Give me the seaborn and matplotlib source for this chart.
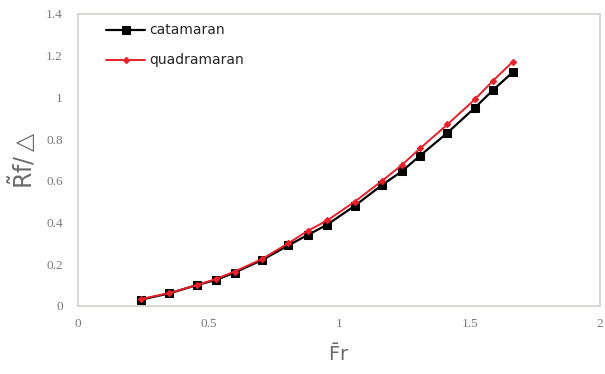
import matplotlib
matplotlib.use("Agg")
import matplotlib.pyplot as plt
import seaborn as sns
import pandas as pd

# Froude number and frictional resistance per displacement
froude = [0.24, 0.35, 0.455, 0.53, 0.60, 0.705, 0.805, 0.88, 0.955, 1.06,
          1.165, 1.24, 1.31, 1.415, 1.52, 1.59, 1.665]
catamaran = [0.03, 0.06, 0.10, 0.125, 0.16, 0.22, 0.29, 0.34, 0.39, 0.48,
             0.58, 0.645, 0.72, 0.83, 0.95, 1.035, 1.12]
quadramaran = [0.033, 0.062, 0.10, 0.13, 0.165, 0.225, 0.30, 0.36, 0.41, 0.50,
               0.60, 0.675, 0.755, 0.87, 0.99, 1.08, 1.17]

x_ticks = [0, 0.5, 1, 1.5, 2]
x_tick_labels = ["0", "0.5", "1", "1.5", "2"]
y_ticks = [0, 0.2, 0.4, 0.6, 0.8, 1.0, 1.2, 1.4]
y_tick_labels = ["0", "0.2", "0.4", "0.6", "0.8", "1", "1.2", "1.4"]

sns.set_theme(style="white")
plt.rcParams["font.family"] = ["DejaVu Sans"]
plt.rcParams["mathtext.fontset"] = "dejavusans"

fig = plt.figure(figsize=(6.05, 3.74), dpi=100)
ax = fig.add_axes([0.129, 0.182, 0.863, 0.781])

df_cat = pd.DataFrame({"Fr": froude, "val": catamaran})
df_quad = pd.DataFrame({"Fr": froude, "val": quadramaran})

sns.lineplot(data=df_cat, x="Fr", y="val", ax=ax, color="black", lw=1.6,
             marker="s", markersize=5.2, markeredgecolor="black",
             label="catamaran")
sns.lineplot(data=df_quad, x="Fr", y="val", ax=ax, color="#e8202a", lw=1.4,
             marker="D", markersize=3.2, markeredgecolor="#e8202a",
             label="quadramaran")

ax.set_xlim(0, 2)
ax.set_ylim(0, 1.4)
ax.set_xticks(x_ticks)
ax.set_xticklabels(x_tick_labels, family="Liberation Serif")
ax.set_yticks(y_ticks)
ax.set_yticklabels(y_tick_labels, family="Liberation Serif")
ax.tick_params(axis="both", labelsize=9.5, colors="#7a7a7a", length=0)
ax.tick_params(axis="x", pad=9)
ax.tick_params(axis="y", pad=11)
for s in ax.spines.values():
    s.set_color("#d6d0cc")
    s.set_linewidth(1.2)

ax.set_xlabel(r"$\bar{\mathrm{F}}\mathrm{r}$", fontsize=14, color="#6a6a6a",
              labelpad=9)
ax.set_ylabel(r"$\tilde{\mathrm{R}}\mathrm{f}/\triangle$", fontsize=17,
              color="#6a6a6a", labelpad=6)

leg = ax.legend(loc="upper left", bbox_to_anchor=(0.03, 1.01), frameon=False,
                fontsize=10, handlelength=2.8, labelspacing=1.15,
                handletextpad=0.3)

fig.savefig("out.png", dpi=100)
